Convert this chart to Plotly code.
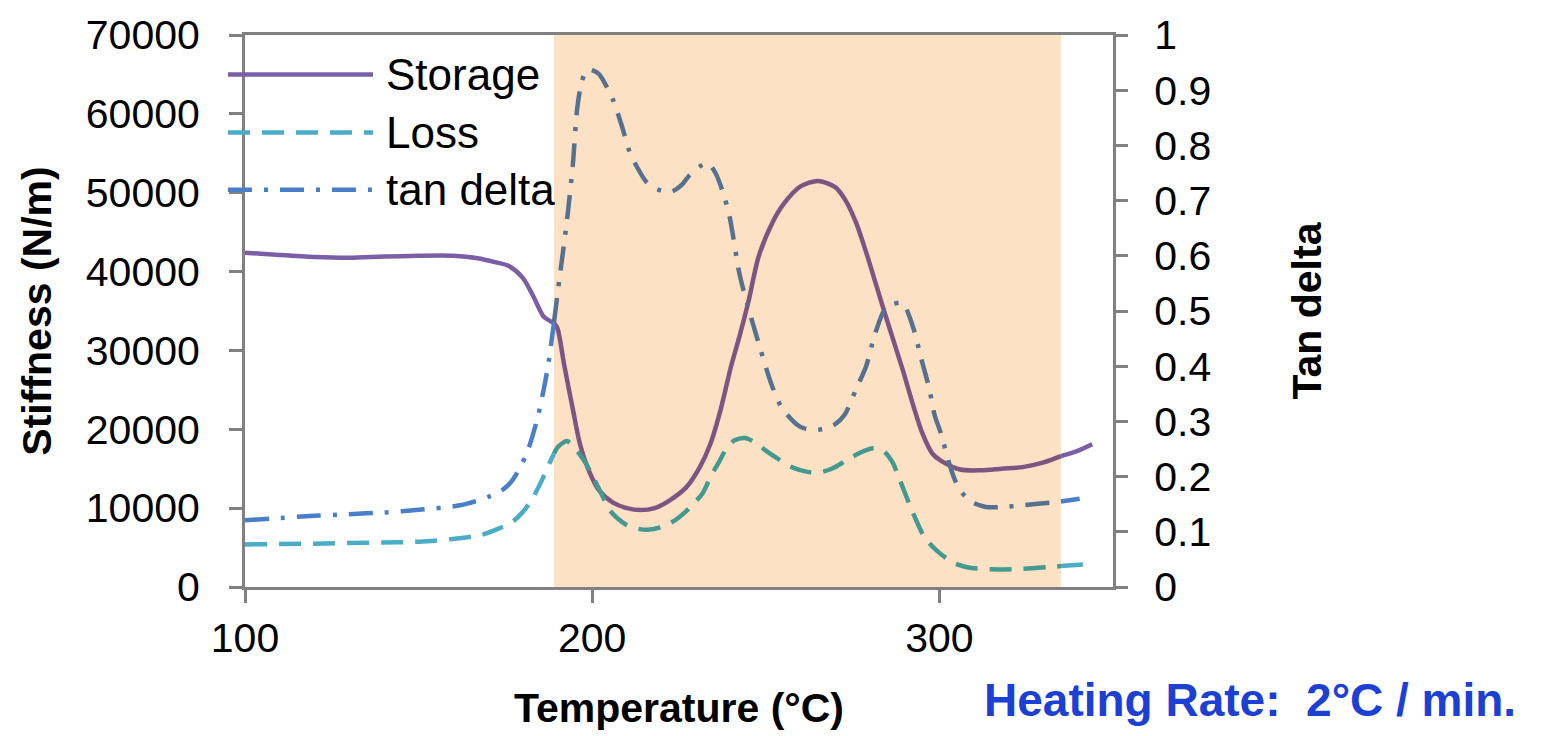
import plotly.graph_objects as go

# ---------------- data ----------------
storage_temp = [100, 110, 120, 130, 140, 150, 160, 167, 172, 176, 180, 183, 186, 188, 189,
                190, 192, 194.4, 196.5, 199, 202, 206, 210, 214, 218, 222, 227, 231, 234,
                237, 240, 242.5, 245, 248, 252, 255, 260, 265, 270, 273, 276, 279, 282,
                285, 289.4, 292, 295, 298, 300.5, 306, 312, 318, 324, 330, 335, 340, 344]
storage_val = [42400, 42100, 41850, 41750, 41900, 42000, 42000, 41700, 41200, 40700, 39200,
               36900, 34300, 33700, 33500, 32800, 28000, 22600, 18100, 14800, 12250, 10700,
               10000, 9750, 10000, 10900, 12600, 15200, 18100, 22500, 28000, 31900, 36200,
               42000, 46300, 48500, 50800, 51500, 50700, 49000, 46200, 42300, 38000, 33700,
               27600, 23700, 19600, 16900, 16000, 14900, 14800, 15000, 15200, 15800, 16600,
               17300, 18100]

loss_temp = [100, 120, 140, 150, 160, 168, 173, 177, 180, 183, 186, 188, 189, 190, 192.7,
             195, 198, 200.3, 203, 205, 209.8, 213, 216, 220, 224, 228, 231.8, 234, 236.7,
             239, 241, 244, 247, 250, 253, 258, 262, 265, 269, 273, 277, 281, 284, 286.5,
             288.5, 292, 295.6, 299, 303.9, 308, 314.6, 324, 333.5, 335, 343]
loss_val = [5400, 5500, 5650, 5750, 6100, 6600, 7400, 8250, 9500, 11400, 14000, 16000, 16900,
            17700, 18500, 17600, 15800, 13900, 11500, 9750, 7900, 7400, 7250, 7600, 8500,
            10000, 11900, 13900, 16000, 17800, 18600, 18900, 18300, 17300, 16400, 15100,
            14600, 14500, 15000, 16000, 17000, 17600, 17200, 15800, 13700, 9800, 6400, 4700,
            3100, 2500, 2250, 2300, 2600, 2650, 2900]

tan_temp = [100, 110, 120, 130, 140, 150, 162, 170, 174, 177, 181, 184, 187, 189, 190.6,
            192.6, 194.4, 195.7, 197, 198.6, 200.5, 202, 205.9, 208.5, 210.8, 213, 215.6,
            219, 222.7, 226, 228, 231, 233.3, 235.5, 237.6, 239.6, 242.4, 244.8, 246.8,
            251.7, 254.8, 259.7, 263, 266.4, 270, 272.7, 276.1, 278.9, 281.3, 284.2, 286.5,
            289.4, 292.3, 294.8, 297.1, 298.6, 300.5, 303, 305.5, 309, 313.4, 318, 324,
            333.5, 335, 340.4]
tan_val = [0.121, 0.125, 0.129, 0.132, 0.135, 0.140, 0.148, 0.163, 0.175, 0.193, 0.24, 0.30,
           0.39, 0.48, 0.56, 0.657, 0.764, 0.868, 0.915, 0.9375, 0.935, 0.929, 0.884, 0.836,
           0.788, 0.76, 0.734, 0.72, 0.716, 0.73, 0.746, 0.762, 0.768, 0.75, 0.716, 0.67,
           0.568, 0.509, 0.466, 0.366, 0.323, 0.291, 0.285, 0.286, 0.295, 0.312, 0.36, 0.40,
           0.455, 0.502, 0.512, 0.514, 0.473, 0.413, 0.359, 0.312, 0.277, 0.22, 0.18, 0.155,
           0.145, 0.145, 0.148, 0.154, 0.155, 0.16]

shade_range = [189, 335]
series_names = ["Storage", "Loss", "tan delta"]
x_ticks = [100, 200, 300]

# ---------------- styling ----------------
FONT = "Liberation Sans, Arial, sans-serif"
AX = "#808080"
SHADE = "rgb(252,225,197)"
styles = {
    "Storage": dict(out="#7a5fa6", inn="#7d5482", dash="solid"),
    "Loss": dict(out="#4aacc6", inn="#449a90", dash="22px,12px"),
    "tan delta": dict(out="#4a7ec8", inn="#56708f", dash="24px,12px,4px,12px"),
}
LW = 4.5


def segments(xs, ys):
    lo, hi = shade_range
    a = [(x, y) for x, y in zip(xs, ys) if x <= lo]
    b = [(x, y) for x, y in zip(xs, ys) if lo <= x <= hi]
    c = [(x, y) for x, y in zip(xs, ys) if x >= hi]
    return [(a, "out"), (b, "inn"), (c, "out")]


fig = go.Figure()
data = {
    "Storage": (storage_temp, storage_val, "y"),
    "Loss": (loss_temp, loss_val, "y"),
    "tan delta": (tan_temp, tan_val, "y2"),
}
for name in series_names:
    xs, ys, ax = data[name]
    st = styles[name]
    for seg, kind in segments(xs, ys):
        if len(seg) < 2:
            continue
        fig.add_trace(go.Scatter(
            x=[p[0] for p in seg], y=[p[1] for p in seg], yaxis=ax,
            mode="lines", name=name, showlegend=False,
            line=dict(color=st[kind], width=LW, dash=st["dash"], shape="spline", smoothing=0.8),
            hoverinfo="x+y+name",
        ))

# shaded region
fig.add_shape(type="rect", xref="x", yref="paper", x0=shade_range[0], x1=shade_range[1],
              y0=0, y1=1, fillcolor=SHADE, line=dict(width=0), layer="below")

# legend (drawn as shapes + text, to reproduce long sample lines)
leg_y = [0.9286, 0.8232, 0.7196]
for name, ly in zip(series_names, leg_y):
    st = styles[name]
    fig.add_shape(type="line", xref="paper", yref="paper", x0=-0.0196, x1=0.1475,
                  y0=ly, y1=ly, line=dict(color=st["out"], width=LW, dash=st["dash"]))
    fig.add_annotation(xref="paper", yref="paper", x=0.1600, y=ly, text=name,
                       showarrow=False, xanchor="left", yanchor="middle",
                       font=dict(family=FONT, size=44, color="black"))

fig.add_annotation(xref="paper", yref="paper", x=1.158, y=-0.205,
                   text="Heating Rate:\u00a0 2\u00b0C / min.", showarrow=False,
                   xanchor="center", yanchor="middle",
                   font=dict(family=FONT, size=46, color="#1c3fd4", weight="bold"))

tickfont = dict(family=FONT, size=41, color="black")
titlefont = dict(family=FONT, size=41, color="black", weight="bold")

fig.update_layout(
    width=1543, height=736, autosize=False,
    margin=dict(l=245, r=430, t=25, b=140),
    paper_bgcolor="white", plot_bgcolor="white",
    showlegend=False,
    xaxis=dict(range=[100, 350], tickvals=x_ticks, ticks="outside", ticklen=13,
               tickwidth=3, tickcolor=AX, showline=True, linecolor=AX, linewidth=3,
               mirror=True, showgrid=False, zeroline=False, tickfont=tickfont,
               ticklabelstandoff=0, ticklabeloverflow="allow",
               title=dict(text="Temperature (\u00b0C)", font=titlefont, standoff=34)),
    yaxis=dict(range=[0, 70000], dtick=10000, tickformat="d", ticks="outside", ticklen=13,
               tickwidth=3, tickcolor=AX, showline=True, linecolor=AX, linewidth=3,
               showgrid=False, zeroline=False, tickfont=tickfont, ticklabelstandoff=21,
               ticklabeloverflow="allow",
               title=dict(text="Stiffness (N/m)", font=titlefont, standoff=22)),
    yaxis2=dict(range=[0, 1], dtick=0.1, overlaying="y", side="right", ticks="outside",
                ticklen=12, tickwidth=3, tickcolor=AX, showline=True, linecolor=AX,
                linewidth=3, showgrid=False, zeroline=False, tickfont=tickfont,
                ticklabelstandoff=18, ticklabeloverflow="allow",
                title=dict(text="Tan delta", font=titlefont, standoff=83)),
)

fig.write_html(
    "out.html",
    config={"displayModeBar": False, "responsive": False},
    post_script="document.body.style.margin='0';document.body.style.overflow='hidden';",
)
